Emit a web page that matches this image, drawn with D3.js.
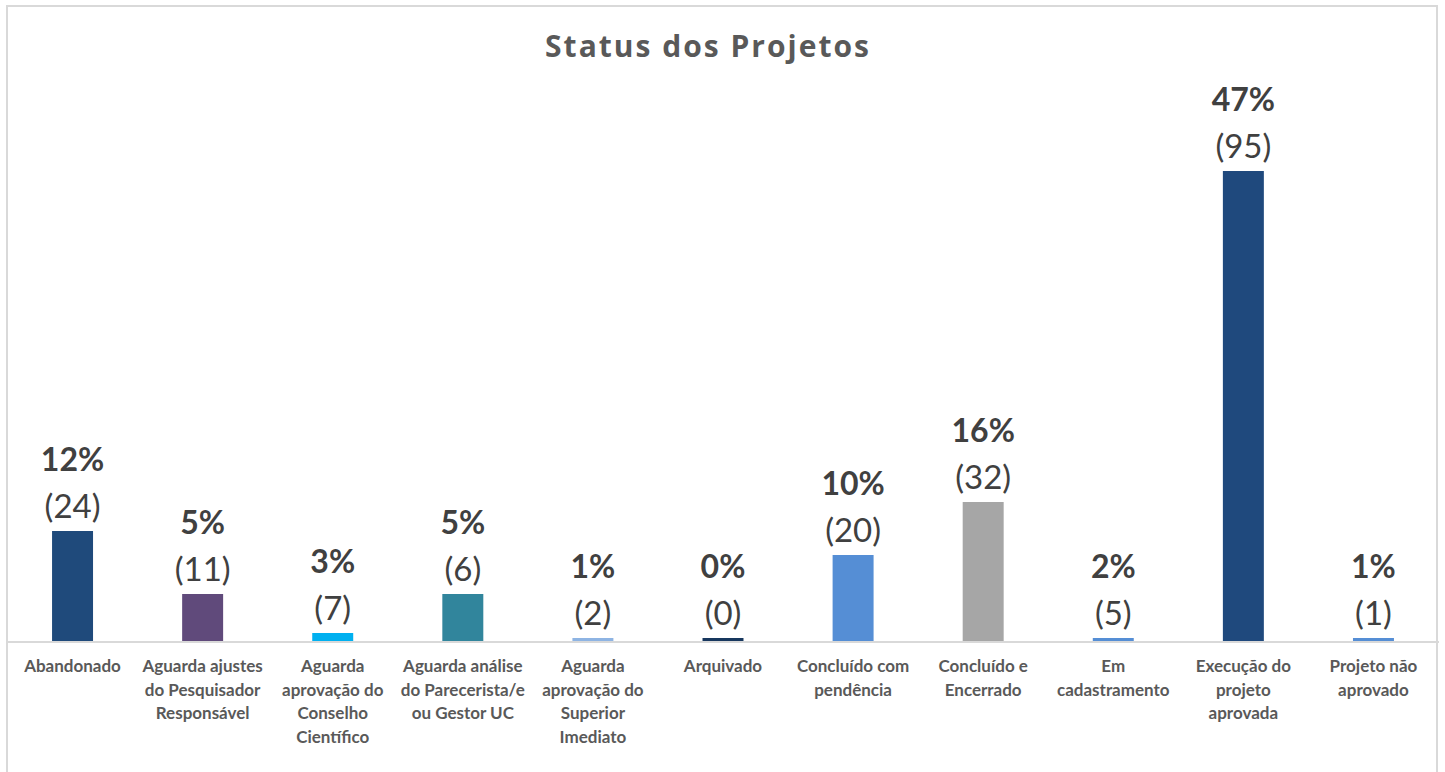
<!DOCTYPE html>
<html>
<head>
<meta charset="utf-8">
<script src="https://cdn.jsdelivr.net/npm/d3@7"></script>
<style>
  html, body { margin: 0; padding: 0; background: #fff; }
  svg { display: block; }
</style>
</head>
<body>
<div id="chart"></div>
<script>
const categories = [
    "Abandonado",
    "Aguarda ajustes\ndo Pesquisador\nResponsável",
    "Aguarda\naprovação do\nConselho\nCientífico",
    "Aguarda análise\ndo Parecerista/e\nou Gestor UC",
    "Aguarda\naprovação do\nSuperior\nImediato",
    "Arquivado",
    "Concluído com\npendência",
    "Concluído e\nEncerrado",
    "Em\ncadastramento",
    "Execução do\nprojeto\naprovada",
    "Projeto não\naprovado"
];
// bar heights as drawn in the picture (percent units)
const barValues = [11, 4.7, 0.8, 4.7, 0.3, 0.3, 8.6, 13.9, 0.3, 47, 0.3];
const pctLabels = ["12%", "5%", "3%", "5%", "1%", "0%", "10%", "16%", "2%", "47%", "1%"];
const counts = [24, 11, 7, 6, 2, 0, 20, 32, 5, 95, 1];
const barColors = ["#1F4A7B", "#604A7B", "#00B0F0", "#31859C", "#8EB4E3", "#17375E",
                   "#558ED5", "#A6A6A6", "#558ED5", "#1F497D", "#558ED5"];

const width = 1445;
const height = 772;

const svg = d3.select("#chart")
    .append("svg")
    .attr("width", width)
    .attr("height", height);

// chart border
svg.append("rect")
    .attr("x", 7).attr("y", 6)
    .attr("width", 1430).attr("height", 790)
    .attr("fill", "#fff")
    .attr("stroke", "#d9d9d9")
    .attr("stroke-width", 2);

svg.append("text")
    .attr("x", 708).attr("y", 57)
    .attr("text-anchor", "middle")
    .style("font-family", "'Open Sans', Lato, sans-serif")
    .style("font-weight", 700)
    .style("font-size", "30px")
    .style("letter-spacing", "2px")
    .attr("fill", "#595959")
    .text("Status dos Projetos");

const x = d3.scaleBand()
    .domain(d3.range(categories.length))
    .range([7.5, 1438.5])
    .paddingInner(0.685)
    .paddingOuter(0.3425);

const y = d3.scaleLinear()
    .domain([0, 47])
    .range([641, 171]);

const data = categories.map((c, i) => ({
    i, cat: c, v: barValues[i], pct: pctLabels[i], n: counts[i], color: barColors[i]
}));

svg.append("g")
    .selectAll("rect")
    .data(data)
    .join("rect")
    .attr("x", d => x(d.i))
    .attr("width", x.bandwidth())
    .attr("y", d => y(d.v))
    .attr("height", d => y(0) - y(d.v))
    .attr("fill", d => d.color);

// category axis
const xAxis = svg.append("g")
    .attr("transform", `translate(0,${y(0) + 0.5})`)
    .call(d3.axisBottom(x).tickSize(0).tickFormat(""));
xAxis.select(".domain").attr("stroke", "#d9d9d9").attr("stroke-width", 2);

const catLabels = svg.append("g")
    .selectAll("text")
    .data(data)
    .join("text")
    .attr("x", d => x(d.i) + x.bandwidth() / 2)
    .attr("y", 672)
    .attr("text-anchor", "middle")
    .style("font-family", "Lato, 'Open Sans', sans-serif")
    .style("font-weight", 700)
    .style("font-size", "17px")
    .attr("fill", "#595959");

catLabels.selectAll("tspan")
    .data(d => d.cat.split("\n").map(line => ({ line, cx: x(d.i) + x.bandwidth() / 2 })))
    .join("tspan")
    .attr("x", d => d.cx)
    .attr("dy", (d, k) => k === 0 ? 0 : 23.5)
    .text(d => d.line);

// data labels
const labels = svg.append("g")
    .selectAll("g")
    .data(data)
    .join("g")
    .attr("transform", d => `translate(${x(d.i) + x.bandwidth() / 2},${y(d.v) - 13})`);

labels.append("text")
    .attr("text-anchor", "middle")
    .style("font-family", "Lato, 'Open Sans', sans-serif")
    .style("font-size", "33px")
    .attr("fill", "#404040")
    .text(d => `(${d.n})`);

labels.append("text")
    .attr("y", -47)
    .attr("text-anchor", "middle")
    .style("font-family", "Lato, 'Open Sans', sans-serif")
    .style("font-weight", 700)
    .style("font-size", "32px")
    .attr("fill", "#404040")
    .text(d => d.pct);
</script>
</body>
</html>
